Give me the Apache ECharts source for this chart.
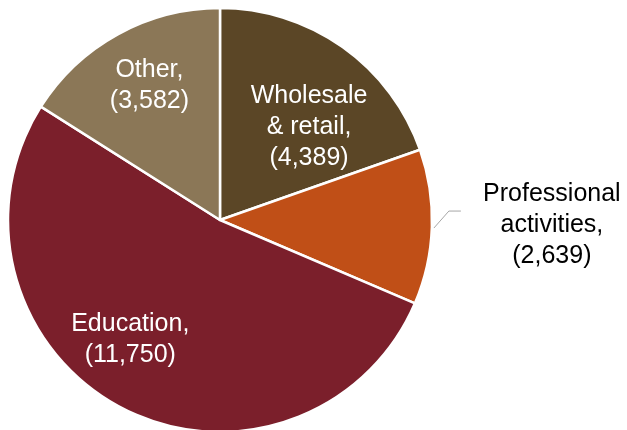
<!DOCTYPE html>
<html>
<head>
<meta charset="utf-8">
<script src="https://cdn.jsdelivr.net/npm/echarts@6/dist/echarts.min.js"></script>
<style>html,body{margin:0;padding:0;background:#fff;}#chart{width:627px;height:430px;}</style>
</head>
<body>
<div id="chart"></div>
<script>
const categories = ['Wholesale\n& retail,', 'Professional\nactivities,', 'Education,', 'Other,'];
const values = [4389, 2639, 11750, 3582];
const colors = ['#5b4626', '#c04f17', '#7b1f2b', '#8b7757'];
const labelOffsets = [[26, -4], null, [-39, 23], [-18, -39]];

const chart = echarts.init(document.getElementById('chart'));
const fmt = n => n.toLocaleString('en-US');
const data = categories.map((c, i) => {
  const item = { name: c, value: values[i], itemStyle: { color: colors[i] } };
  if (i === 1) {
    item.label = { position: 'outside', color: '#000' };
    item.labelLine = { show: true, length: 10, length2: 12, lineStyle: { color: '#a6a6a6', width: 1 } };
  } else {
    item.label = { position: 'inside', color: '#fff', offset: labelOffsets[i] };
    item.labelLine = { show: false };
  }
  return item;
});

chart.setOption({
  animation: false,
  series: [{
    type: 'pie',
    center: [220, 220],
    radius: [0, 212],
    startAngle: 90,
    clockwise: true,
    avoidLabelOverlap: false,
    itemStyle: { borderColor: '#fff', borderWidth: 2.5 },
    label: {
      fontFamily: 'Liberation Sans, Arial, sans-serif',
      fontSize: 25,
      lineHeight: 31,
      align: 'center',
      formatter: p => p.name + '\n(' + fmt(p.value) + ')'
    },
    labelLayout: function (params) {
      if (params.dataIndex !== 1) return {};
      const pts = params.labelLinePoints;
      const p0 = [pts[0][0] + 2, pts[0][1] + 1];
      const p1 = [p0[0] + 15, p0[1] - 17];
      const p2 = [p1[0] + 12, p1[1]];
      return {
        x: p2[0] + 91,
        y: p2[1] + 14,
        align: 'center',
        verticalAlign: 'middle',
        labelLinePoints: [p0, p1, p2]
      };
    },
    data: data
  }]
});
</script>
</body>
</html>
